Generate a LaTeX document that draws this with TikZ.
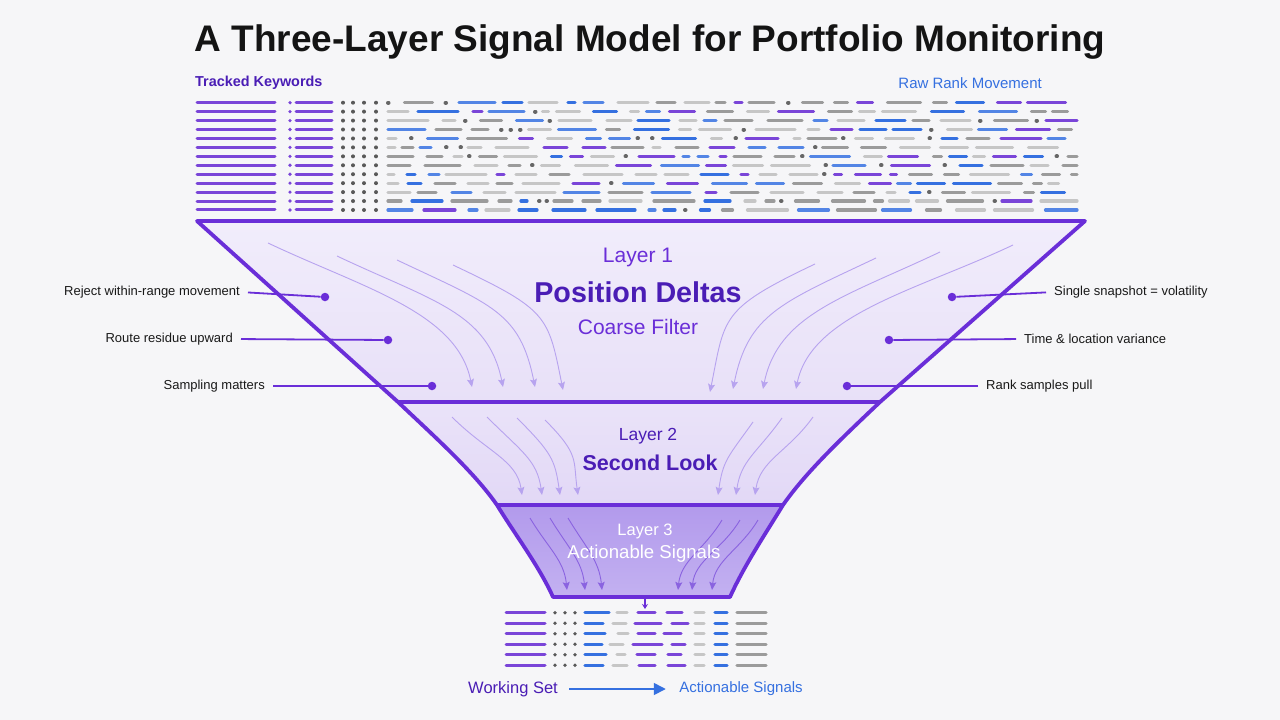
\documentclass[tikz,border=0pt]{standalone}
\usepackage{fontspec}
\setmainfont{Liberation Sans}
\usetikzlibrary{arrows.meta}
\definecolor{sigpurple}{HTML}{6A2ED8}
\definecolor{sigink}{HTML}{4A1DB5}
\definecolor{sigviolet}{HTML}{7A45D8}
\definecolor{siglilac}{HTML}{B7A3EF}
\definecolor{sigmauve}{HTML}{8A63E0}
\definecolor{sigblue}{HTML}{3570E0}
\definecolor{siggrey}{HTML}{9B9B9B}
\definecolor{sigpale}{HTML}{C6C6C6}
\definecolor{sigbg}{HTML}{F6F6F8}
\definecolor{layerAtop}{HTML}{F1EDFB}
\definecolor{layerAbot}{HTML}{E8E0F8}
\definecolor{layerBtop}{HTML}{EAE3F9}
\definecolor{layerBbot}{HTML}{E2D8F6}
\definecolor{layerCtop}{HTML}{B29AEC}
\definecolor{layerCbot}{HTML}{C3B1F1}
\tikzstyle{funnel} = [line width=3.8pt, draw=sigpurple, line join=round]
\tikzstyle{flow} = [
  draw=siglilac,
  line width=0.9pt,
  -{Stealth[length=8pt,width=7pt,inset=1.5pt]},
]
\tikzstyle{deepflow} = [flow, draw=sigmauve]
\tikzstyle{leader} = [draw=sigpurple, line width=1.8pt]
\tikzstyle{sigdot} = [circle, fill=sigpurple, inner sep=0pt, minimum size=8.5pt]
\tikzstyle{note} = [font=\fontsize{13}{15}\selectfont, inner sep=0pt, text=black!90]
\tikzstyle{kw} = [draw=sigviolet, line width=3pt, line cap=round]
\tikzstyle{rk} = [line width=3.2pt, line cap=round]
\tikzstyle{rk1} = [rk, draw=siggrey]
\tikzstyle{rk2} = [rk, draw=siggrey]
\tikzstyle{rk3} = [rk, draw=sigpale]
\tikzstyle{rk4} = [rk, draw=sigpale]
\tikzstyle{rk5} = [rk, draw=sigblue]
\tikzstyle{rk6} = [rk, draw=sigblue!85]
\tikzstyle{rk7} = [rk, draw=sigviolet]
\tikzstyle{rk8} = [rk, draw=black!60, line width=4pt]

\begin{document}
\begin{tikzpicture}[x=1pt, y=-1pt]
            % Canvas
            \fill[sigbg] (0,0) rectangle (1280,720);
            \useasboundingbox (0,0) rectangle (1280,720);

            % Title
            \node[font=\bfseries\fontsize{37}{40}\selectfont, text=black!92] (title) at (650,42)
                {A Three-Layer Signal Model for Portfolio Monitoring};

            % Headers
            \node[anchor=west, inner sep=0pt, text=sigink, font=\bfseries\fontsize{14.4}{16}\selectfont]
                (keys) at (195,83) {Tracked Keywords};
            \node[anchor=east, inner sep=0pt, text=sigblue, font=\fontsize{15}{17}\selectfont]
                (raw) at (1042,83) {Raw Rank Movement};

            % Keyword rows
            \foreach \r in {0,...,12}{
                \pgfmathsetmacro\yy{102.7+8.94*\r}
                \draw[kw] (197,\yy) -- (275,\yy);
                \fill[sigviolet] (290,\yy) circle (1.8);
                \draw[kw] (296,\yy) -- (332,\yy);
                \foreach \xd in {343,353,364,376}
                    \fill[black!65] (\xd,\yy) circle (2);
            }

            % Rank movement rows
            \pgfmathsetseed{11}
            \foreach \r in {0,...,12}{
                \pgfmathsetmacro\yy{102.7+8.94*\r}
                \xdef\xx{388}
                \foreach \k in {1,...,45}{
                    \pgfmathtruncatemacro\cc{random(1,8)}
                    \pgfmathsetmacro\len{\cc==8 ? 0.5 : random(6,40)}
                    \pgfmathsetmacro\gap{random(7,16)}
                    \pgfmathsetmacro\xe{min(\xx+\len,1077)}
                    \ifdim\xx pt<1072pt
                        \draw[rk\cc] (\xx,\yy) -- (\xe,\yy);
                    \fi
                    \pgfmathsetmacro\xn{\xe+\gap}
                    \xdef\xx{\xn}
                }
            }

            % Funnel corners
            \coordinate (t1) at (197,221);
            \coordinate (t2) at (1085,221);
            \coordinate (m1) at (398,402);
            \coordinate (m2) at (880,402);
            \coordinate (b1) at (497,505);
            \coordinate (b2) at (783,505);
            \coordinate (e1) at (553,597);
            \coordinate (e2) at (730,597);

            % Layers
            \shade[top color=layerAtop, bottom color=layerAbot] (t1) -- (t2) -- (m2) -- (m1) -- cycle;
            \shade[top color=layerBtop, bottom color=layerBbot] (m1) -- (m2)
                .. controls (842,438) and (806,472) .. (b2) -- (b1)
                .. controls (474,472) and (436,438) .. (m1) -- cycle;
            \shade[top color=layerCtop, bottom color=layerCbot] (b1) -- (b2)
                .. controls (764,536) and (744,566) .. (e2) -- (e1)
                .. controls (539,566) and (516,536) .. (b1) -- cycle;

            % Flows, layer 1
            \foreach \sx/\sy/\ex/\ey [count=\i] in {268/243/472/387, 337/256/503/387, 397/260/535/387, 453/265/563/390}{
                \coordinate (fa\i) at (\sx,\sy);
                \coordinate (fb\i) at (\ex,\ey);
                \draw[flow] (fa\i) .. controls +(95,45) and +(-15,-75) .. (fb\i);
            }
            \foreach \sx/\sy/\ex/\ey [count=\i] in {815/264/710/392, 876/258/733/389, 940/252/763/389, 1013/245/796/389}{
                \coordinate (ga\i) at (\sx,\sy);
                \coordinate (gb\i) at (\ex,\ey);
                \draw[flow] (ga\i) .. controls +(-95,45) and +(15,-75) .. (gb\i);
            }

            % Flows, layer 2
            \foreach \sx/\sy/\ex/\ey [count=\i] in {452/417/522/495, 487/417/542/495, 517/418/560/495, 545/420/578/495}{
                \coordinate (ha\i) at (\sx,\sy);
                \coordinate (hb\i) at (\ex,\ey);
                \draw[flow] (ha\i) .. controls +(35,35) and +(-5,-35) .. (hb\i);
            }
            \foreach \sx/\sy/\ex/\ey [count=\i] in {753/422/718/495, 782/418/736/495, 813/417/755/495}{
                \coordinate (ia\i) at (\sx,\sy);
                \coordinate (ib\i) at (\ex,\ey);
                \draw[flow] (ia\i) .. controls +(-25,35) and +(5,-35) .. (ib\i);
            }

            % Flows, layer 3
            \foreach \sx/\sy/\ex/\ey [count=\i] in {530/518/567/590, 550/518/585/590, 568/518/602/590}{
                \coordinate (ja\i) at (\sx,\sy);
                \coordinate (jb\i) at (\ex,\ey);
                \draw[deepflow] (ja\i) .. controls +(18,30) and +(-3,-30) .. (jb\i);
            }
            \foreach \sx/\sy/\ex/\ey [count=\i] in {722/520/678/590, 740/520/692/590, 758/520/712/590}{
                \coordinate (ka\i) at (\sx,\sy);
                \coordinate (kb\i) at (\ex,\ey);
                \draw[deepflow] (ka\i) .. controls +(-18,30) and +(3,-30) .. (kb\i);
            }

            % Outline
            \draw[funnel] (t1) -- (t2) -- (m2)
                .. controls (842,438) and (806,472) .. (b2)
                .. controls (764,536) and (744,566) .. (e2) -- (e1)
                .. controls (539,566) and (516,536) .. (b1)
                .. controls (474,472) and (436,438) .. (m1) -- cycle;
            \draw[funnel] (m1) -- (m2);
            \draw[funnel] (b1) -- (b2);

            % Layer labels
            \node[text=sigpurple, font=\fontsize{21}{24}\selectfont] (l1a) at (638,257) {Layer 1};
            \node[text=sigink, font=\bfseries\fontsize{28.7}{32}\selectfont] (l1b) at (638,292) {Position Deltas};
            \node[text=sigpurple, font=\fontsize{21}{24}\selectfont] (l1c) at (638,327) {Coarse Filter};
            \node[text=sigink, font=\fontsize{17.5}{20}\selectfont] (l2a) at (648,436) {Layer 2};
            \node[text=sigink, font=\bfseries\fontsize{21.5}{24}\selectfont] (l2b) at (650,463) {Second Look};
            \node[text=white, font=\fontsize{16.5}{19}\selectfont] (l3a) at (645,531) {Layer 3};
            \node[text=white, font=\fontsize{18.6}{21}\selectfont] (l3b) at (644,554) {Actionable Signals};

            % Side notes, left
            \node[note, anchor=east] (n1) at (240,292) {Reject within-range movement};
            \node[note, anchor=east] (n2) at (233,339) {Route residue upward};
            \node[note, anchor=east] (n3) at (265,386) {Sampling matters};
            \node[sigdot] (d1) at (325,297) {};
            \node[sigdot] (d2) at (388,340) {};
            \node[sigdot] (d3) at (432,386) {};
            \draw[leader, shorten <=8pt] (n1.east) -- (d1);
            \draw[leader, shorten <=8pt] (n2.east) -- (d2);
            \draw[leader, shorten <=8pt] (n3.east) -- (d3);

            % Side notes, right
            \node[note, anchor=west] (n4) at (1054,292) {Single snapshot = volatility};
            \node[note, anchor=west] (n5) at (1024,339) {Time \& location variance};
            \node[note, anchor=west] (n6) at (986,386) {Rank samples pull};
            \node[sigdot] (d4) at (952,297) {};
            \node[sigdot] (d5) at (889,340) {};
            \node[sigdot] (d6) at (847,386) {};
            \draw[leader, shorten <=8pt] (n4.west) -- (d4);
            \draw[leader, shorten <=8pt] (n5.west) -- (d5);
            \draw[leader, shorten <=8pt] (n6.west) -- (d6);

            % Out of the funnel
            \coordinate (spout) at (645,599);
            \coordinate (drop) at (645,609);
            \draw[sigpurple, line width=1.2pt, -{Stealth[length=5pt,width=6pt]}] (spout) -- (drop);

            % Working set rows
            \foreach \r/\ba/\ga/\gb/\pa/\pb/\qa/\qb in {
                0/609/617/627/638/655/667/682,
                1/603/613/626/635/661/672/688,
                2/605/618/628/638/655/664/681,
                3/602/610/623/633/662/672/685,
                4/606/617/625/637/655/668/681,
                5/603/613/627/639/655/668/685}{
                \pgfmathsetmacro\yy{612.7+10.5*\r}
                \draw[kw] (506,\yy) -- (545,\yy);
                \foreach \xd in {555,565,575}
                    \fill[black!65] (\xd,\yy) circle (1.9);
                \draw[rk5] (585,\yy) -- (\ba,\yy);
                \draw[rk3] (\ga,\yy) -- (\gb,\yy);
                \draw[rk7] (\pa,\yy) -- (\pb,\yy);
                \draw[rk7] (\qa,\yy) -- (\qb,\yy);
                \draw[rk3] (695,\yy) -- (704,\yy);
                \draw[rk5] (715,\yy) -- (727,\yy);
                \draw[rk1] (737,\yy) -- (766,\yy);
            }

            % Legend
            \node[text=sigink, font=\fontsize{16.5}{18}\selectfont] (ws) at (513,689) {Working Set};
            \node[text=sigblue, font=\fontsize{15}{17}\selectfont] (as) at (741,689) {Actionable Signals};
            \draw[sigblue, line width=1.6pt, -{Triangle[length=12pt,width=12pt]},
                shorten <=8pt, shorten >=10pt] (ws) -- (as);
\end{tikzpicture}
\end{document}
